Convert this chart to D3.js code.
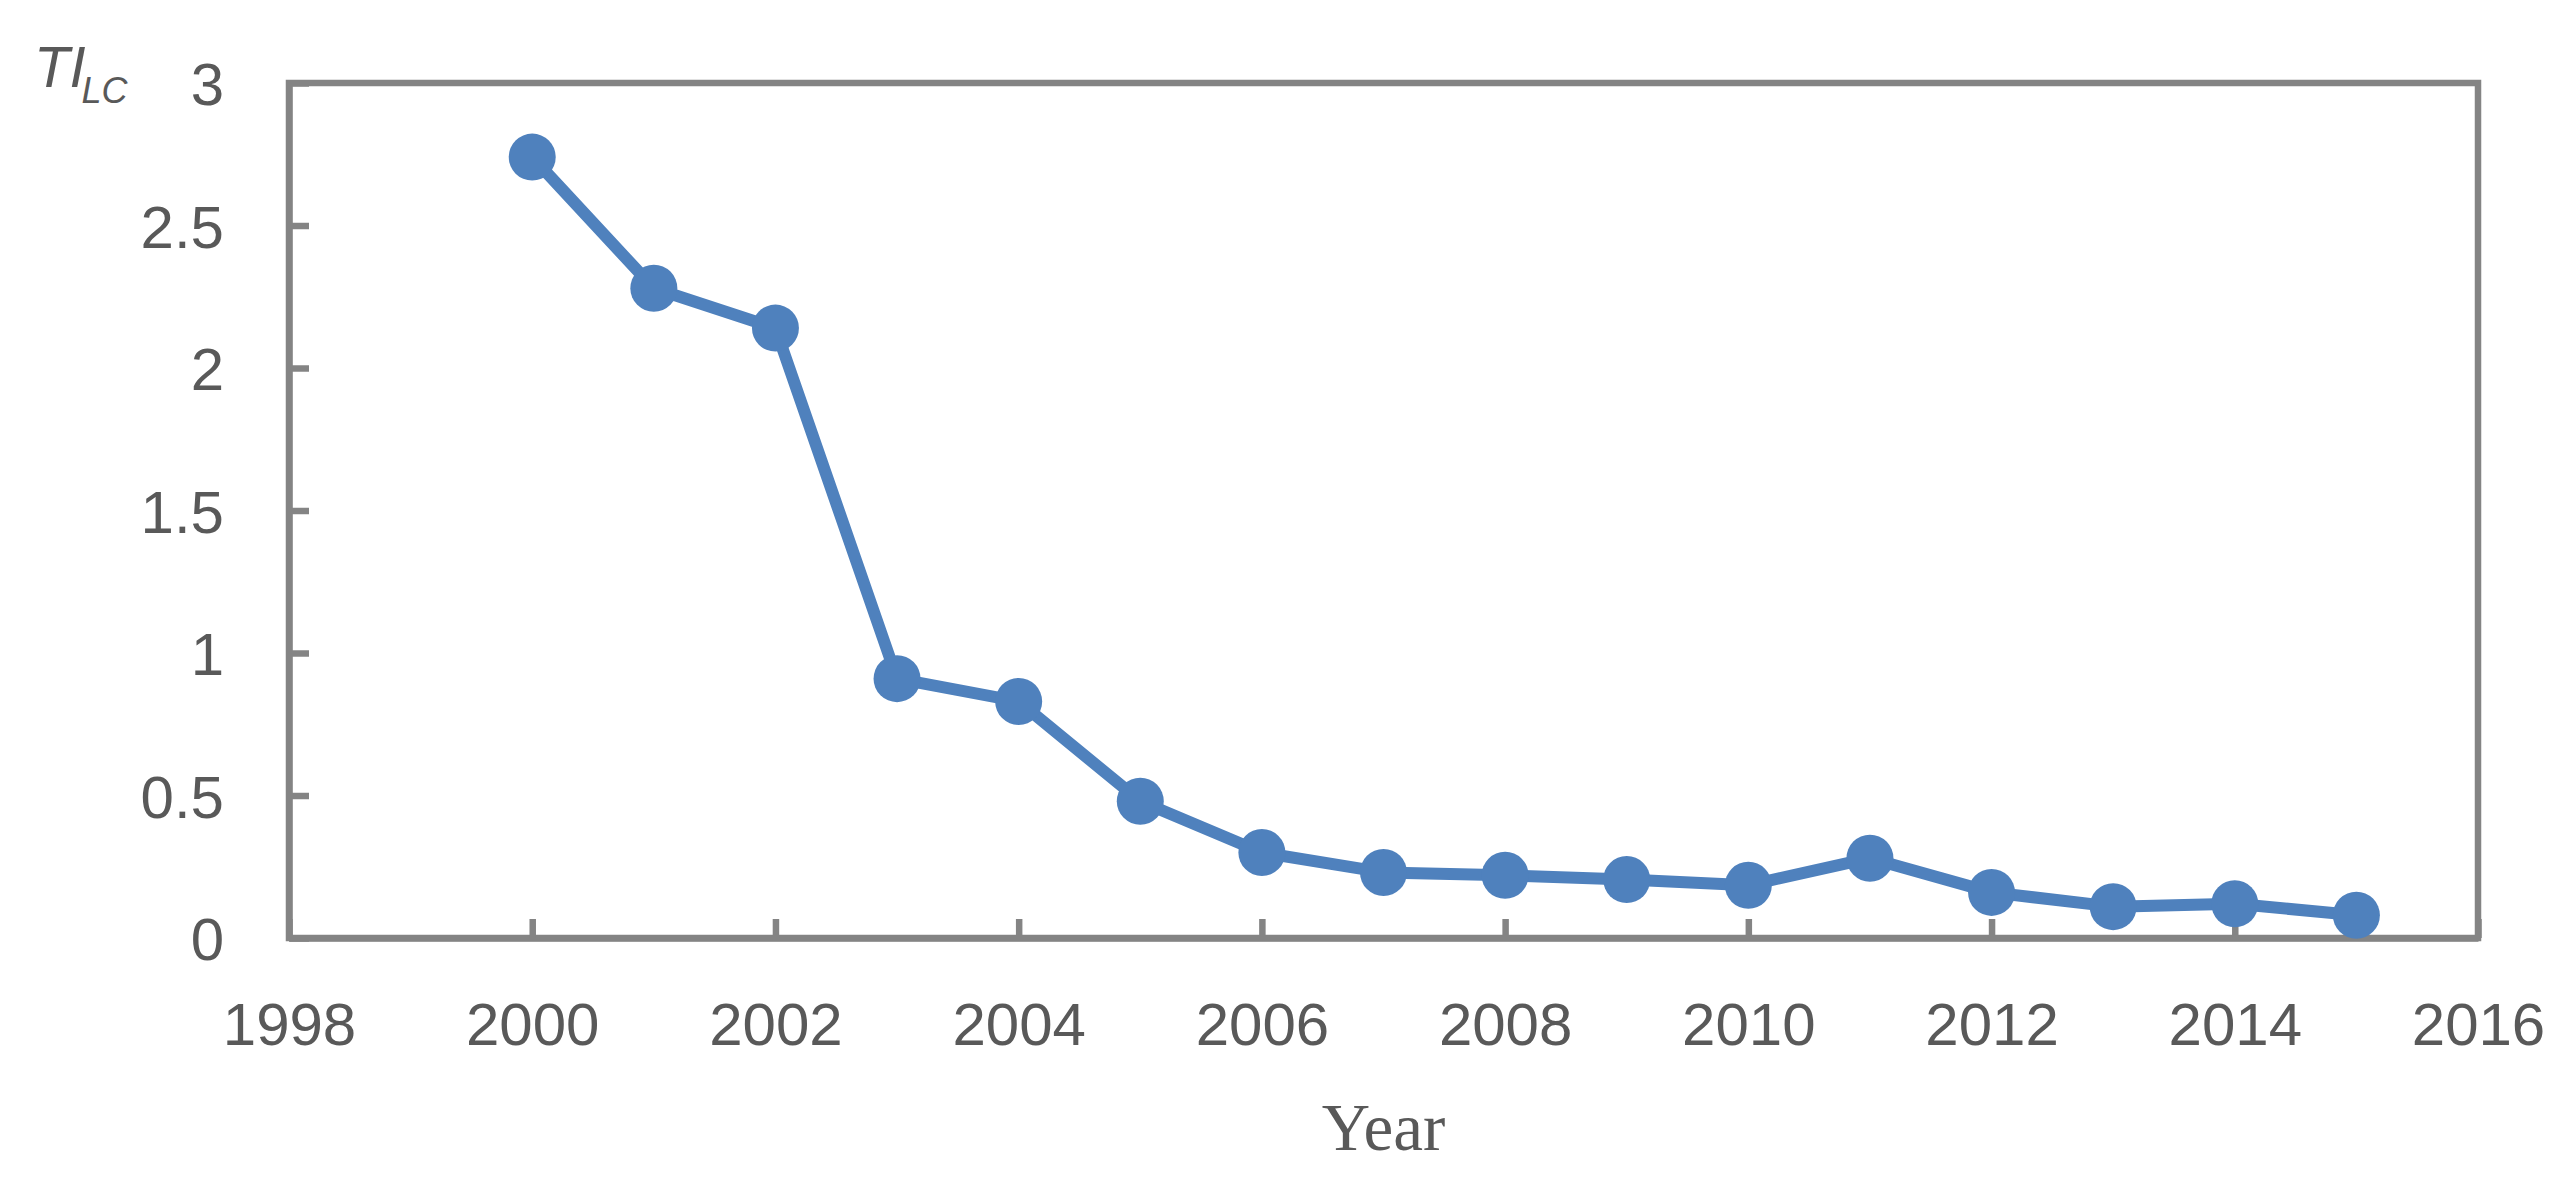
<!DOCTYPE html>
<html>
<head>
<meta charset="utf-8">
<script src="https://cdn.jsdelivr.net/npm/d3@7"></script>
<style>
  html, body { margin: 0; padding: 0; background: #ffffff; }
  svg { display: block; }
</style>
</head>
<body>
<svg id="chart" width="2570" height="1182"></svg>
<script>
// ---- data ----
const years = [2000, 2001, 2002, 2003, 2004, 2005, 2006, 2007, 2008, 2009, 2010, 2011, 2012, 2013, 2014, 2015];
const tiValues = [2.74, 2.28, 2.14, 0.91, 0.83, 0.48, 0.30, 0.23, 0.22, 0.205, 0.185, 0.28, 0.16, 0.11, 0.12, 0.08];
const xTicks = [1998, 2000, 2002, 2004, 2006, 2008, 2010, 2012, 2014, 2016];
const yTicks = [0, 0.5, 1, 1.5, 2, 2.5, 3];
const xTitle = "Year";
const yTitleMain = "TI";
const yTitleSub = "LC";

// ---- layout ----
const plotL = 289, plotR = 2478, plotT = 83, plotB = 938;
const axisColor = "#848484";
const textColor = "#595959";
const seriesColor = "#4F81BD";
const axisW = 6.5;
const font = "'Liberation Sans', Arial, sans-serif";

const svg = d3.select("#chart");

const x = d3.scaleLinear().domain([1998, 2016]).range([plotL, plotR]);
const y = d3.scaleLinear().domain([0, 3]).range([plotB, plotT]);

// plot box
svg.append("rect")
  .attr("x", plotL).attr("y", plotT)
  .attr("width", plotR - plotL).attr("height", plotB - plotT)
  .attr("fill", "none").attr("stroke", axisColor).attr("stroke-width", axisW);

// x axis (ticks inward / upward)
const xAxis = d3.axisBottom(x).tickValues(xTicks).tickFormat(d3.format("d"))
  .tickSizeInner(-19).tickSizeOuter(0).tickPadding(0);
const gx = svg.append("g").attr("transform", `translate(0,${plotB})`).call(xAxis);
gx.select(".domain").attr("stroke", axisColor).attr("stroke-width", axisW);
gx.selectAll(".tick line").attr("stroke", axisColor).attr("stroke-width", axisW);
gx.selectAll(".tick text")
  .attr("fill", textColor).attr("font-family", font).attr("font-size", 60)
  .attr("y", 1045 - plotB).attr("dy", null);

// y axis (ticks inward / rightward)
const yAxis = d3.axisLeft(y).tickValues(yTicks).tickFormat(d => d3.format("")(d))
  .tickSizeInner(-20).tickSizeOuter(0).tickPadding(0);
const gy = svg.append("g").attr("transform", `translate(${plotL},0)`).call(yAxis);
gy.select(".domain").attr("stroke", axisColor).attr("stroke-width", axisW);
gy.selectAll(".tick line").attr("stroke", axisColor).attr("stroke-width", axisW);
gy.selectAll(".tick text")
  .attr("fill", textColor).attr("font-family", font).attr("font-size", 60)
  .attr("x", 224 - plotL).attr("dy", "0.36em");

// series line
const data = years.map((yr, i) => ({ yr, v: tiValues[i] }));
svg.append("path")
  .datum(data)
  .attr("fill", "none")
  .attr("stroke", seriesColor)
  .attr("stroke-width", 12)
  .attr("stroke-linejoin", "round")
  .attr("d", d3.line().x(d => x(d.yr)).y(d => y(d.v)));

svg.append("g").selectAll("circle")
  .data(data).join("circle")
  .attr("cx", d => x(d.yr)).attr("cy", d => y(d.v))
  .attr("r", 23.5).attr("fill", seriesColor);

// x title
svg.append("text")
  .attr("x", (plotL + plotR) / 2).attr("y", 1150)
  .attr("text-anchor", "middle")
  .attr("font-family", "'Liberation Serif', 'Times New Roman', serif")
  .attr("font-size", 67).attr("fill", textColor)
  .text(xTitle);

// y title TI_LC
const yt = svg.append("text")
  .attr("x", 34).attr("y", 87)
  .attr("font-family", font).attr("font-style", "italic")
  .attr("font-size", 58).attr("fill", textColor);
yt.append("tspan").text(yTitleMain);
yt.append("tspan").attr("font-size", 36).attr("dy", 16).attr("dx", -4).text(yTitleSub);
</script>
</body>
</html>
